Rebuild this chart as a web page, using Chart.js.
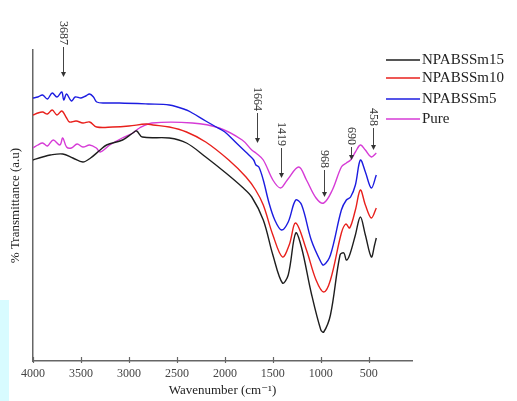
<!DOCTYPE html>
<html>
<head>
<meta charset="utf-8">
<script src="https://cdn.jsdelivr.net/npm/chart.js"></script>
<style>
  body { margin: 0; background: #fff; }
  #wrap { position: relative; width: 517px; height: 401px; }
  #strip { position: absolute; left: 0; top: 300px; width: 9px; height: 101px; background: #d8fbff; }
  canvas { position: absolute; left: 0; top: 0; }
</style>
</head>
<body>
<div id="wrap">
  <div id="strip"></div>
  <canvas id="chart" width="517" height="401"></canvas>
</div>
<script>
// FTIR spectra, wavenumber (cm-1) vs transmittance (arbitrary units, offset curves)
var xTicks = [4000, 3500, 3000, 2500, 2000, 1500, 1000, 500]

var blackWn = [4000, 3900, 3820, 3690, 3585, 3480, 3400, 3300, 3233, 3067, 2960, 2920, 2860, 2580, 2400, 2200, 1990, 1820, 1720, 1600, 1500, 1400, 1340, 1262, 1200, 1100, 1000, 970, 900, 800, 760, 734, 700, 640, 588, 536, 474, 440, 422]
var blackT = [201, 204, 206, 207, 203, 199, 203, 211, 216, 221, 228, 230, 224, 223, 218, 204, 188, 174, 164, 141, 106, 78, 86, 128, 113, 68, 31, 29, 46, 106, 108, 101, 106, 126, 144, 126, 104, 116, 123]

var redWn = [4000, 3950, 3900, 3850, 3800, 3750, 3700, 3650, 3620, 3550, 3480, 3410, 3336, 3170, 3000, 2820, 2750, 2580, 2400, 2200, 1960, 1780, 1680, 1600, 1500, 1400, 1330, 1262, 1150, 1050, 970, 900, 786, 740, 700, 640, 588, 536, 474, 422]
var redT = [246, 248, 249, 247, 251, 246, 250, 243, 239, 240, 238, 239, 234, 234, 235, 237, 236, 234, 229, 219, 201, 184, 171, 156, 126, 104, 116, 138, 111, 81, 69, 81, 128, 137, 133, 151, 171, 156, 143, 153]

var blueWn = [4000, 3950, 3900, 3850, 3800, 3750, 3700, 3680, 3650, 3600, 3560, 3500, 3450, 3410, 3370, 3336, 3250, 3100, 2800, 2580, 2400, 2340, 2200, 2090, 2000, 1880, 1750, 1700, 1677, 1646, 1600, 1540, 1480, 1410, 1340, 1262, 1200, 1100, 1000, 970, 900, 786, 734, 690, 640, 588, 536, 474, 422]
var blueT = [263, 264, 266, 262, 268, 264, 269, 261, 267, 260, 264, 263, 265, 267, 264, 259, 258, 258, 257, 256, 251, 248, 240, 234, 229, 218, 206, 201, 196, 194, 181, 158, 141, 131, 139, 161, 156, 121, 99, 96, 106, 151, 161, 164, 176, 201, 189, 173, 186]

var pinkWn = [4000, 3950, 3900, 3850, 3790, 3720, 3690, 3650, 3600, 3540, 3480, 3410, 3340, 3300, 3200, 3070, 2960, 2890, 2760, 2340, 2060, 1820, 1720, 1677, 1600, 1500, 1420, 1350, 1231, 1150, 1050, 970, 880, 786, 734, 690, 640, 588, 536, 474, 422]
var pinkT = [213, 216, 218, 215, 221, 216, 223, 214, 213, 217, 214, 216, 213, 209, 216, 223, 228, 233, 238, 238, 233, 221, 211, 208, 201, 181, 173, 181, 194, 181, 163, 158, 171, 194, 198, 201, 209, 216, 211, 204, 208]

var seriesNames = ['NPABSSm15', 'NPABSSm10', 'NPABSSm5', 'Pure']
var seriesColors = ['#1e1e1e', '#e8201c', '#1c1ce0', '#d63bd6']

// peak labels with arrows
var peakLabels = ['3687', '1664', '1419', '968', '690', '458']
var peakWn = [3687, 1664, 1419, 968, 690, 458]
var peakTipT = [284, 218, 183, 164, 201, 211]

function points(wn, t) {
  return wn.map(function (w, i) { return { x: w, y: t[i] } })
}

var allData = [points(blackWn, blackT), points(redWn, redT), points(blueWn, blueT), points(pinkWn, pinkT)]

var serif = '"Liberation Serif", "DejaVu Serif", serif'

var decorations = {
  id: 'decorations',
  afterDraw: function (chart) {
    var ctx = chart.ctx
    var xs = chart.scales.x
    var ys = chart.scales.y
    var bottom = chart.chartArea.bottom
    ctx.save()

    // small inner tick marks on the x axis
    ctx.strokeStyle = '#666'
    ctx.lineWidth = 1.2
    xTicks.forEach(function (v) {
      var px = Math.round(xs.getPixelForValue(v)) + 0.5
      ctx.beginPath()
      ctx.moveTo(px, bottom + 2)
      ctx.lineTo(px, bottom - 4)
      ctx.stroke()
    })

    // peak annotations
    var stems = [30, 30, 30, 27, 13, 22]
    ctx.font = '12px ' + serif
    ctx.fillStyle = '#333'
    ctx.strokeStyle = '#444'
    ctx.lineWidth = 1
    peakLabels.forEach(function (lbl, i) {
      var px = Math.round(xs.getPixelForValue(peakWn[i])) + 0.5
      var tip = ys.getPixelForValue(peakTipT[i])
      var stemTop = tip - stems[i]
      ctx.beginPath()
      ctx.moveTo(px, stemTop)
      ctx.lineTo(px, tip - 4)
      ctx.stroke()
      ctx.beginPath()
      ctx.moveTo(px - 2.5, tip - 5)
      ctx.lineTo(px + 2.5, tip - 5)
      ctx.lineTo(px, tip)
      ctx.closePath()
      ctx.fill()
      var w = ctx.measureText(lbl).width
      ctx.save()
      ctx.translate(px, stemTop - w - 2)
      ctx.rotate(Math.PI / 2)
      ctx.textAlign = 'left'
      ctx.textBaseline = 'middle'
      ctx.fillText(lbl, 0, 0)
      ctx.restore()
    })

    // legend
    var legendY = [60, 78, 99, 119]
    ctx.font = '15px ' + serif
    ctx.textAlign = 'left'
    ctx.textBaseline = 'middle'
    seriesNames.forEach(function (name, i) {
      ctx.strokeStyle = seriesColors[i]
      ctx.lineWidth = 1.5
      ctx.beginPath()
      ctx.moveTo(386, legendY[i])
      ctx.lineTo(420, legendY[i])
      ctx.stroke()
      ctx.fillStyle = '#222'
      ctx.fillText(name, 422, legendY[i])
    })
    ctx.restore()
  }
}

var chart = new Chart(document.getElementById('chart'), {
  type: 'line',
  data: {
    datasets: allData.map(function (d, i) {
      return {
        label: seriesNames[i],
        data: d,
        borderColor: seriesColors[i],
        borderWidth: 1.4,
        pointRadius: 0,
        fill: false,
        tension: 0.35
      }
    })
  },
  options: {
    responsive: false,
    animation: false,
    layout: { padding: { left: 0, top: 50, right: 105, bottom: 0 } },
    plugins: { legend: { display: false }, tooltip: { enabled: false } },
    scales: {
      x: {
        type: 'linear',
        reverse: true,
        min: 50,
        max: 4000,
        afterBuildTicks: function (scale) {
          scale.ticks = xTicks.map(function (v) { return { value: v } })
        },
        afterFit: function (scale) { scale.height = 40 },
        grid: { drawOnChartArea: false, drawTicks: false },
        border: { color: '#666', width: 1.5 },
        ticks: {
          padding: 6,
          color: '#444',
          font: { family: serif, size: 12 },
          maxRotation: 0,
          autoSkip: false,
          callback: function (v) { return String(v) }
        },
        title: {
          display: true,
          text: 'Wavenumber (cm\u207B\u00B9)',
          color: '#222',
          font: { family: serif, size: 13 },
          padding: { top: 0, bottom: 3 }
        }
      },
      y: {
        min: 0,
        max: 311,
        afterFit: function (scale) { scale.width = 33 },
        grid: { drawOnChartArea: false, drawTicks: false },
        border: { color: '#666', width: 1.5 },
        ticks: { display: false },
        title: {
          display: true,
          text: '% Transmittance (a.u)',
          color: '#222',
          font: { family: serif, size: 13 },
          padding: { top: 8, bottom: 0 }
        }
      }
    }
  },
  plugins: [decorations]
})
</script>
</body>
</html>
